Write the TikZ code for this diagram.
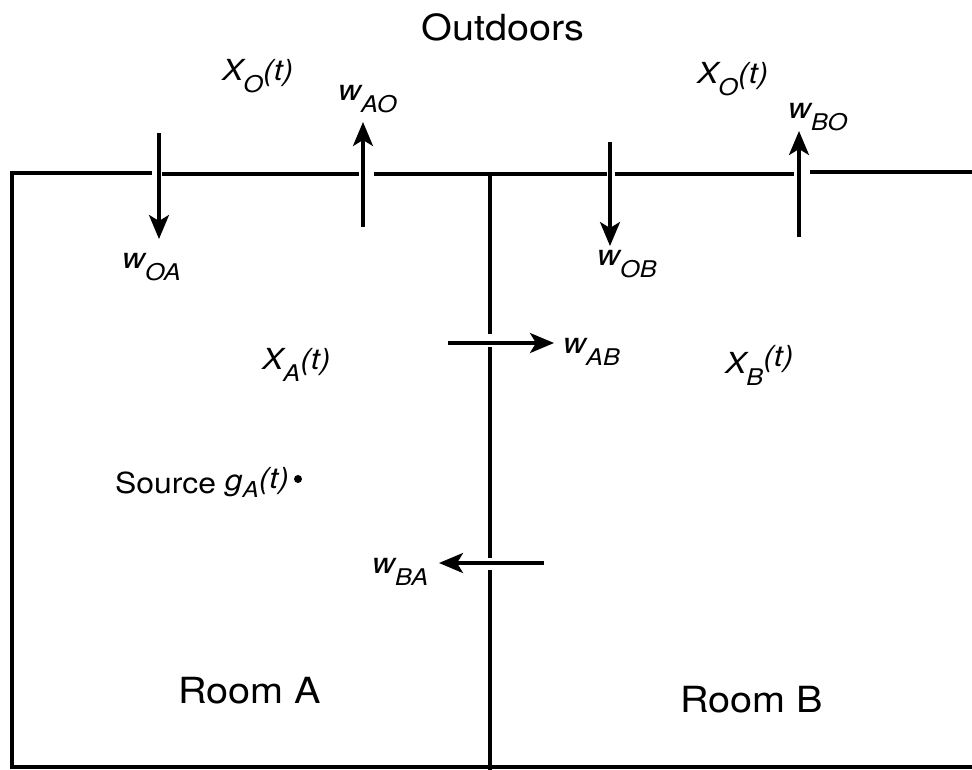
\documentclass[tikz,border=0pt]{standalone}
\usepackage{fontspec}
\setmainfont[FakeStretch=1.10]{TeX Gyre Heros}
\usetikzlibrary{arrows.meta}
\newcommand{\mysub}[1]{\raisebox{-12pt}{\fontsize{23}{23}\selectfont\itshape #1}}
\tikzset{
  wall/.style={line width=3.2pt, line cap=rect},
  flow/.style={line width=3.4pt, -{Stealth[length=24pt,width=20pt,inset=6pt]}},
  lab/.style={inner sep=0pt, anchor=base west, font=\fontsize{29}{29}\selectfont\itshape},
  big/.style={inner sep=0pt, anchor=base west, font=\fontsize{36}{36}\selectfont},
}
\begin{document}
\begin{tikzpicture}[x=1pt,y=-1pt]
\useasboundingbox (0,0) rectangle (972,769);
% walls
\draw[wall] (12,767) -- (12,173) -- (150,173);
\draw[wall] (164,174) -- (357,174);
\draw[wall] (376,174) -- (605,174);
\draw[wall] (617,174) -- (792,174);
\draw[wall] (812,172) -- (972,172);
\draw[wall] (12,767) -- (972,767);
\draw[wall] (490,174) -- (490,332);
\draw[wall] (490,349) -- (490,556);
\draw[wall] (490,572) -- (490,769);
% labels
\node[big] (out) at (421,40) {Outdoors};
\node[big] (ra) at (178,703) {Room A};
\node[big] (rb) at (680,712) {Room B};
\node[lab] (xo1) at (222,80) {X\mysub{O}(t)};
\node[lab] (xo2) at (697,83) {X\mysub{O}(t)};
\node[lab] (wao) at (338,100) {w\mysub{AO}};
\node[lab] (wbo) at (788,118) {w\mysub{BO}};
\node[lab] (woa) at (122,268) {w\mysub{OA}};
\node[lab] (wob) at (597,265) {w\mysub{OB}};
\node[lab] (xa) at (262,369) {X\mysub{A}(t)};
\node[lab] (xb) at (725,373) {X\mysub{B}\raisebox{7pt}{(t)}};
\node[lab] (wab) at (563,353) {w\mysub{AB}};
\node[lab] (wba) at (372,573) {w\mysub{BA}};
\node[inner sep=0pt, anchor=base west, font=\fontsize{29}{29}\selectfont] (src) at (115,493)
  {Source \textit{\raisebox{3pt}{g}\raisebox{-4pt}{\fontsize{22}{22}\selectfont A}\raisebox{5pt}{(t)}}};
\node[circle, fill, inner sep=0pt, minimum size=8pt] (dot) at (298,479) {};
% flow arrows
\coordinate (oa1) at (159,133); \coordinate (oa2) at (159,239);
\coordinate (ao1) at (363,227); \coordinate (ao2) at (363,122);
\coordinate (ob1) at (610,142); \coordinate (ob2) at (610,246);
\coordinate (bo1) at (799,237); \coordinate (bo2) at (799,131);
\coordinate (ab1) at (448,343); \coordinate (ab2) at (554,343);
\coordinate (ba1) at (544,563); \coordinate (ba2) at (439,563);
\draw[flow] (oa1) -- (oa2);
\draw[flow] (ao1) -- (ao2);
\draw[flow] (ob1) -- (ob2);
\draw[flow] (bo1) -- (bo2);
\draw[flow] (ab1) -- (ab2);
\draw[flow] (ba1) -- (ba2);
\end{tikzpicture}
\end{document}
